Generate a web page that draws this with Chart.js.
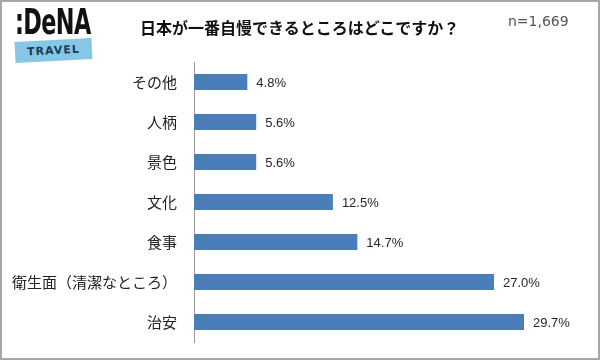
<!DOCTYPE html>
<html><head><meta charset="utf-8">
<script src="https://cdn.jsdelivr.net/npm/chart.js@4"></script>
<style>
html,body{margin:0;padding:0;background:#fff;}
#wrap{position:relative;width:600px;height:360px;overflow:hidden;}
#frame{position:absolute;left:0;top:0;width:596px;height:356px;border:2px solid #a6a6a6;pointer-events:none;}
#c{position:absolute;left:0;top:0;}
#title{position:absolute;left:140px;top:15px;font:bold 16px "Noto Sans CJK JP";color:#111;white-space:nowrap;}
#n{position:absolute;left:508px;top:13px;font:14px "DejaVu Sans";color:#555;}
#logo{position:absolute;left:15px;top:2px;font:bold 35px "DejaVu Sans";color:#111;letter-spacing:-1px;transform:scaleX(0.64);transform-origin:left top;white-space:nowrap;}
#ribbon{position:absolute;left:15px;top:40px;width:77px;height:21px;background:#86c6e7;transform:rotate(-3deg);text-align:center;font:bold 11px "DejaVu Sans";color:#1d3b5a;line-height:21px;letter-spacing:1px;}
</style></head>
<body><div id="wrap">
<canvas id="c" width="600" height="360"></canvas>
<div id="logo">:DeNA</div>
<div id="ribbon">TRAVEL</div>
<div id="title">日本が一番自慢できるところはどこですか？</div>
<div id="n">n=1,669</div>
<div id="frame"></div>
</div>
<script>
const categories = ["その他","人柄","景色","文化","食事","衛生面（清潔なところ）","治安"];
const values = [4.8,5.6,5.6,12.5,14.7,27.0,29.7];
const valueLabels = ["4.8%","5.6%","5.6%","12.5%","14.7%","27.0%","29.7%"];

const labelPlugin = {
  id:'vlabels',
  afterDatasetsDraw(chart){
    const ctx = chart.ctx;
    const meta = chart.getDatasetMeta(0);
    ctx.save();
    ctx.font = '13px "Liberation Sans"';
    ctx.fillStyle = '#262626';
    ctx.textBaseline = 'middle';
    ctx.textAlign = 'left';
    meta.data.forEach((bar,i)=>{
      ctx.fillText(valueLabels[i], bar.x + 9, bar.y + 1);
    });
    ctx.restore();
  }
};

new Chart(document.getElementById('c'), {
  type:'bar',
  data:{labels:categories, datasets:[{data:values, backgroundColor:'#4a7ebb', borderWidth:0, barPercentage:0.4, categoryPercentage:1.0}]},
  options:{
    indexAxis:'y', responsive:false, animation:false,
    layout:{padding:{left:0,right:6,top:62,bottom:18}},
    plugins:{legend:{display:false}, tooltip:{enabled:false}},
    scales:{
      x:{display:false, min:0, max:36},
      y:{
        afterFit(s){ s.width = 194; s.paddingTop = 0; s.paddingBottom = 0; },
        grid:{display:true, color:'transparent', drawTicks:false},
        border:{display:true, color:'#999', width:1},
        ticks:{padding:17, color:'#222', font:{family:'"Noto Sans CJK JP"', size:15}}
      }
    }
  },
  plugins:[labelPlugin]
});
</script>
</body></html>
